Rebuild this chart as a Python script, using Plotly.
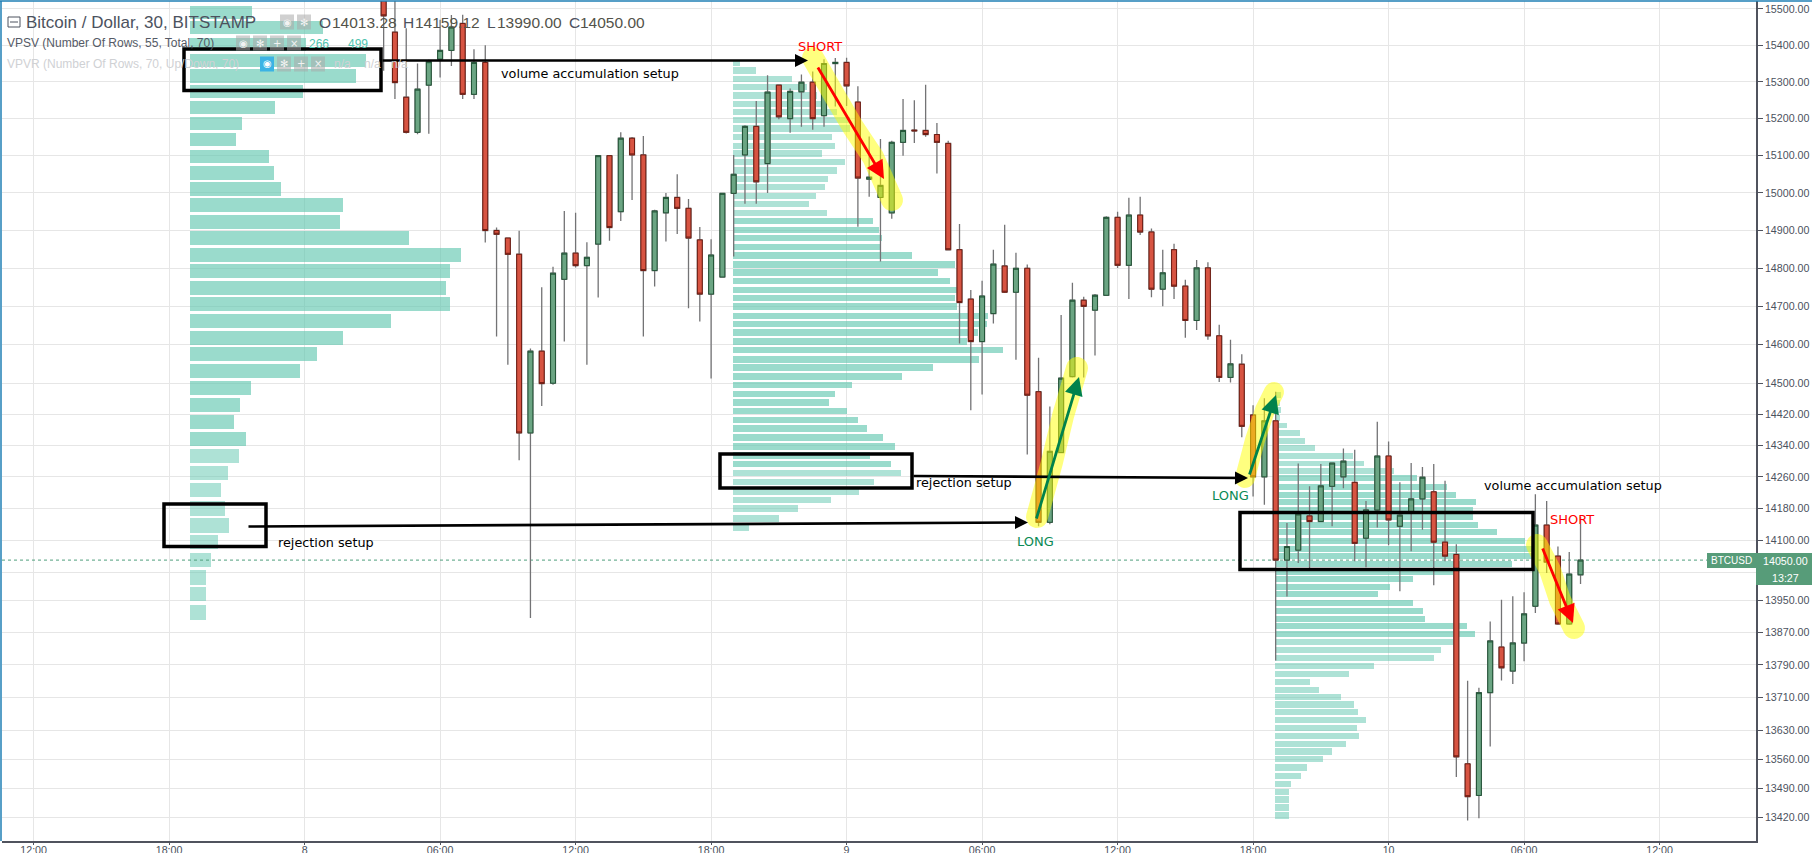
import math
import numpy as np
import pandas as pd
import plotly.graph_objects as go

# ---------- chart data (30-minute bars) ----------
first_bar = "2018-01-08 03:30"
opens = [15530,15436,15258,15163,15291,15362,15386,15460,15266,15353,
         14900,14880,14837,14372,14583,14500,14771,14840,14807,14864,
         15100,14950,15147,15102,14794,14947,14988,14959,14875,14732,
         14777,14999,15102,15179,15079,15291,15200,15273,15299,15208,
         15350,15353,15245,15037,14988,14947,15136,15169,15168,15157,
         15133,14849,14719,14608,14681,14806,14737,14800,14478,14145,
         14322,14517,14716,14690,14729,14935,14808,14941,14896,14745,
         14849,14753,14663,14801,14623,14515,14549,14418,14260,14403,
         14050,14075,14161,14147,14236,14260,14246,14105,14176,14313,
         14135,14170,14204,14222,14095,14064,13549,13473,13722,13834,
         13775,13844,13935,14138,14060,13891,14013.28]
highs = [15560,15540,15447,15350,15360,15470,15483,15484,15389,15400,
         14908,14880,14899,14590,14750,14804,14952,14947,14869,15102,
         15102,15163,15150,15153,14955,15000,15050,14984,14909,14877,
         15000,15102,15182,15248,15318,15293,15282,15320,15328,15362,
         15365,15366,15288,15152,15145,15140,15253,15250,15292,15188,
         15140,14917,14743,14767,14849,14915,14841,14810,14566,14440,
         14677,14762,14725,14732,14938,14950,14987,14990,14905,14849,
         14865,14770,14822,14816,14652,14613,14575,14443,14461,14478,
         14143,14294,14236,14293,14296,14332,14329,14199,14401,14350,
         14246,14295,14285,14293,14250,14090,13751,13734,13897,13951,
         13960,13970,14216,14199,14084,14070,14159.12]
lows = [15330,15253,15160,15158,15159,15312,15343,15253,15253,14868,
        14621,14548,14302,13906,14441,14496,14608,14802,14548,14723,
        14873,14925,14981,14621,14752,14871,14891,14695,14660,14512,
        14775,14831,14971,14971,15000,15198,15162,15178,15170,15178,
        15233,15234,14910,14990,14818,14931,15100,15134,15151,15052,
        14847,14603,14430,14471,14655,14735,14561,14317,14135,14140,
        14320,14515,14515,14572,14729,14801,14719,14888,14724,14700,
        14719,14618,14638,14613,14503,14502,14361,14210,14189,13801,
        13959,14043,14030,14145,14135,14231,14047,14032,14132,14087,
        13972,14072,14126,13987,14047,13517,13413,13418,13591,13752,
        13743,13799,13918,14018,13889,13889,13990]
closes = [15481,15298,15163,15280,15355,15386,15450,15266,15353,14900,
          14890,14837,14372,14583,14499,14787,14840,14807,14829,15100,
          14908,15147,15102,14794,14952,14988,14959,14880,14732,14835,
          14999,15050,15179,15030,15272,15205,15274,15299,15200,15350,
          15353,15289,15040,15042,15020,15136,15168,15167,15157,15136,
          14849,14710,14608,14727,14811,14737,14800,14469,14145,14325,
          14513,14716,14700,14729,14935,14808,14941,14896,14745,14788,
          14753,14663,14801,14623,14515,14550,14389,14260,14403,14050,
          14084,14166,14147,14237,14295,14300,14092,14176,14313,14151,
          14163,14204,14259,14095,14060,13566,13470,13722,13849,13783,
          13844,13916,14138,14045,13891,14015,14050]

profile1_prices = [15489,15448,15402,15359,15316,15273,15230,15187,15143,15097,15054,15011,
                   14968,14923,14880,14835,14793,14748,14706,14661,14617,14575,14532,14488,
                   14444,14400,14357,14313,14270,14226,14180,14137,14095,14050,14007,13965,13920]
profile1_volumes = [62,133,116,176,166,113,85,52,46,79,84,91,153,150,219,271,260,256,260,201,
                    153,127,110,61,50,44,56,49,38,31,35,39,28,21,16,16,16]
profile2_prices = [15352,15331,15307,15285,15263,15240,15218,15196,15173,15150,
                   15127,15106,15083,15060,15038,15016,14992,14970,14947,14925,
                   14902,14880,14857,14834,14810,14789,14766,14743,14722,14699,
                   14675,14654,14631,14608,14586,14562,14540,14518,14495,14472,
                   14450,14428,14405,14383,14360,14338,14315,14293,14270,14247,
                   14222,14201,14180,14154,14131]
profile2_volumes = [7,23,59,74,84,90,104,117,117,99,102,89,112,104,95,92,83,76,94,140,
                    146,149,148,179,222,205,217,229,222,224,255,254,245,234,270,246,200,169,119,102,
                    96,114,125,134,150,162,137,158,168,141,126,98,65,46,16]
profile3_prices = [14470,14449,14430,14410,14391,14371,14352,14333,14313,14294,
                   14275,14256,14235,14215,14196,14177,14159,14139,14120,14099,
                   14079,14060,14040,14021,14003,13984,13965,13943,13924,13904,
                   13885,13867,13847,13827,13808,13788,13768,13749,13729,13711,
                   13693,13674,13655,13635,13617,13598,13579,13560,13540,13520,
                   13500,13481,13463,13444,13425]
profile3_volumes = [6,5,6,5,12,25,30,40,78,89,119,142,172,181,201,198,198,203,222,250,
                    262,260,237,178,138,115,103,138,148,150,192,200,178,166,159,99,74,35,44,66,
                    79,83,91,82,84,71,57,48,32,26,16,14,14,14,14]

price_ticks = [15500,15400,15300,15200,15100,15000,14900,14800,14700,14600,14500,14420,14340,
               14260,14180,14100,14020,13950,13870,13790,13710,13630,13560,13490,13420]
time_ticks = ["2018-01-07 12:00","2018-01-07 18:00","2018-01-08 00:00","2018-01-08 06:00",
              "2018-01-08 12:00","2018-01-08 18:00","2018-01-09 00:00","2018-01-09 06:00",
              "2018-01-09 12:00","2018-01-09 18:00","2018-01-10 00:00","2018-01-10 06:00",
              "2018-01-10 12:00"]
time_labels = ["12:00","18:00","8","06:00","12:00","18:00","9","06:00","12:00","18:00","10","06:00","12:00"]
last_price = 14050

# ---------- page geometry ----------
W, H = 1812, 853
L, R, T, B = 2, 1756, 1, 841
def px(x): return (x - L) / (R - L)
def py(y): return 1 - (y - T) / (B - T)

times = pd.date_range(first_bar, periods=len(opens), freq="30min")
GREEN, RED = "#6ba583", "#d75442"
GREEN_EDGE, RED_EDGE = "#225437", "#6f1c12"
WICK = "#737375"
VA = "rgba(100,200,176,0.65)"
OUT = "rgba(100,200,176,0.52)"
FONT = "Liberation Sans"
NOTE = "DejaVu Sans"
AXIS_SIZE = 10.7

fig = go.Figure()

def profile(prices, vols, left, thick, va_low, va_high):
    colors = [VA if va_low <= p <= va_high else OUT for p in prices]
    fig.add_trace(go.Bar(y=prices, x=vols, base=left - L, orientation="h", width=thick,
                         marker=dict(color=colors, line=dict(width=0)),
                         xaxis="x", yaxis="y", showlegend=False, hoverinfo="skip"))

profile(profile1_prices, profile1_volumes, 190, 36, 14340, 15600)
profile(profile2_prices, profile2_volumes, 732.7, 17, 14280, 14930)
profile(profile3_prices, profile3_volumes, 1275, 15, 13860, 14260)

fig.add_trace(go.Scatter(x=[0, R - L], y=[last_price, last_price], mode="lines",
                         line=dict(color="#4f9e7c", width=1, dash="dot"),
                         xaxis="x", yaxis="y", showlegend=False, hoverinfo="skip"))

# wicks
fig.add_trace(go.Candlestick(x=times, open=opens, high=highs, low=lows, close=closes,
                             xaxis="x2", yaxis="y", whiskerwidth=0, showlegend=False, hoverinfo="skip",
                             increasing=dict(line=dict(color=WICK, width=1.3), fillcolor=GREEN),
                             decreasing=dict(line=dict(color=WICK, width=1.3), fillcolor=RED)))
# bodies
body_hi = [max(a, b) for a, b in zip(opens, closes)]
body_lo = [min(a, b) for a, b in zip(opens, closes)]
fig.add_trace(go.Candlestick(x=times, open=opens, high=body_hi, low=body_lo, close=closes,
                             xaxis="x2", yaxis="y", whiskerwidth=0, showlegend=False, hoverinfo="skip",
                             increasing=dict(line=dict(color=GREEN_EDGE, width=1), fillcolor=GREEN),
                             decreasing=dict(line=dict(color=RED_EDGE, width=1), fillcolor=RED)))

shapes, notes = [], []

def rect(x0, y0, x1, y1, **kw):
    shapes.append(dict(type="rect", xref="paper", yref="paper", x0=px(x0), x1=px(x1),
                       y0=py(y0), y1=py(y1), layer="above", **kw))

def seg(x0, y0, x1, y1, color, width):
    shapes.append(dict(type="line", xref="paper", yref="paper", x0=px(x0), x1=px(x1),
                       y0=py(y0), y1=py(y1), layer="above", line=dict(color=color, width=width)))

def text(x, y, s, size=12, color="#000", family=NOTE, anchor="left"):
    notes.append(dict(xref="paper", yref="paper", x=px(x), y=py(y), text=s, showarrow=False,
                      xanchor=anchor, yanchor="middle", font=dict(size=size, color=color, family=family),
                      borderpad=0, borderwidth=0))

def arrow(x0, y0, x1, y1, color, width, size):
    notes.append(dict(xref="paper", yref="paper", x=px(x1), y=py(y1), ax=x0 - x1, ay=y0 - y1,
                      axref="pixel", ayref="pixel", text="", showarrow=True, arrowhead=2,
                      arrowsize=size, arrowwidth=width, arrowcolor=color, standoff=0))

def blob(points, w, color="rgba(255,255,0,0.5)"):
    pts = np.array(points, float)
    r = w / 2
    left, right = [], []
    for i in range(len(pts)):
        a = pts[max(i - 1, 0)]
        b = pts[min(i + 1, len(pts) - 1)]
        d = (b - a) / np.linalg.norm(b - a)
        n = np.array([-d[1], d[0]])
        left.append(pts[i] + n * r)
        right.append(pts[i] - n * r)
    def cap(c, start):
        return [c + r * np.array([math.cos(start - t), math.sin(start - t)]) for t in np.linspace(0, math.pi, 12)]
    d_end = pts[-1] - pts[-2]
    d_start = pts[0] - pts[1]
    a_end = math.atan2(d_end[1], d_end[0]) + math.pi / 2
    a_start = math.atan2(d_start[1], d_start[0]) + math.pi / 2
    outline = left + cap(pts[-1], a_end) + right[::-1] + cap(pts[0], a_start)
    path = "M " + " L ".join(f"{px(p[0]):.5f} {py(p[1]):.5f}" for p in outline) + " Z"
    shapes.append(dict(type="path", xref="paper", yref="paper", path=path, fillcolor=color,
                       line=dict(width=0), layer="above"))

# price tag
rect(1707, 553, 1756, 568, fillcolor="#579c79", line=dict(width=0))
rect(1756, 553, 1812, 585, fillcolor="#579c79", line=dict(width=0))
# window frame
seg(0, 1, W, 1, "#1f7fb5", 1.5)
seg(1, 1, 1, B, "#1f7fb5", 1.5)

# highlighter strokes
blob([(813, 58), (833, 93), (853, 127), (873, 157), (892, 200)], 22)
blob([(1037, 517), (1052, 462), (1063, 416), (1077, 368)], 22)
blob([(1245, 478), (1255, 440), (1265, 410), (1274, 392)], 20)
blob([(1537, 545), (1550, 570), (1560, 600), (1574, 628)], 22)

# boxes
box = dict(line=dict(color="#000", width=3.5))
rect(184, 49, 381, 90.5, **box)
rect(720, 454, 912, 488, **box)
rect(164, 504, 266, 546.5, **box)
rect(1240, 512.5, 1533, 569.5, **box)

# arrows
arrow(381, 60.5, 808, 60.5, "#000", 2.6, 1.0)
arrow(912, 476, 1248, 478, "#000", 2.6, 1.0)
arrow(247, 526.5, 1028, 522.5, "#000", 2.6, 1.0)
arrow(817, 66, 884, 179, "#ff0000", 2.8, 1.3)
arrow(1542, 547, 1573, 623, "#ff0000", 2.8, 1.3)
arrow(1036, 520, 1079, 377, "#00824c", 2.8, 1.3)
arrow(1249, 476, 1276, 395, "#00824c", 2.8, 1.3)

# hand-written labels
text(501, 73, "volume accumulation setup", 12.8)
text(1484, 486, "volume accumulation setup", 12.8)
text(916, 483, "rejection setup", 12.8)
text(278, 542.5, "rejection setup", 12.8)
text(820, 46, "SHORT", 13, "#ff0000", NOTE, "center")
text(1572, 519, "SHORT", 13, "#ff0000", NOTE, "center")
text(1035, 541, "LONG", 13, "#0a8a55", NOTE, "center")
text(1230, 495, "LONG", 13, "#0a8a55", NOTE, "center")

# header
rect(8, 17, 20, 27, line=dict(color="#4c525e", width=1))
seg(10, 22, 18, 22, "#4c525e", 1)
text(26, 22, "Bitcoin / Dollar, 30, BITSTAMP", 17, "#4c525e", FONT)
for x, s, col in [(319, "O", "#4c525e"), (332, "14013.28", "#53534a"), (403, "H", "#4c525e"),
                  (415, "14159.12", "#53534a"), (487, "L", "#4c525e"), (497, "13990.00", "#53534a"),
                  (569, "C", "#4c525e"), (580, "14050.00", "#53534a")]:
    text(x, 22, s, 15.5, col, FONT)
text(7, 43, "VPSV (Number Of Rows, 55, Total, 70)", 12, "#555a66", FONT)
text(7, 64, "VPVR (Number Of Rows, 70, Up/Down, 70)", 12, "#cfd1d4", FONT)
text(309, 44, "266", 12, "#4fc3ae", FONT)
text(348, 44, "499", 12, "#4fc3ae", FONT)
for x in (334, 364, 391):
    text(x, 64, "n/a", 12, "#cfd1d4", FONT)
grey = "rgba(170,170,170,0.55)"
for x0, g, yc in [(280, "◉", 22), (297, "✻", 22), (236, "◉", 43), (253, "✻", 43), (270, "+", 43), (287, "×", 43),
                  (277, "✻", 64), (294, "+", 64), (311, "×", 64)]:
    rect(x0, yc - 7.5, x0 + 14, yc + 7.5, fillcolor=grey, line=dict(width=0))
    text(x0 + 7, yc, g, 10, "#f2f2f2", "DejaVu Sans", "center")
rect(260, 56.5, 274, 71.5, fillcolor="#3bb3e4", line=dict(width=0))
text(267, 64, "◉", 10, "#ffffff", "DejaVu Sans", "center")

# price tag text
text(1731.5, 560.5, "BTCUSD", 10, "#ffffff", FONT, "center")
text(1785, 560.5, "14050.00", AXIS_SIZE, "#ffffff", FONT, "center")
text(1785, 577.5, "13:27", AXIS_SIZE, "#ffffff", FONT, "center")

left_t = "2018-01-07 10:36:00"
right_t = "2018-01-10 16:16:12"
fig.update_layout(
    template="none",
    width=W, height=H, margin=dict(l=L, r=W - R, t=T, b=H - B, pad=0, autoexpand=False),
    paper_bgcolor="#ffffff", plot_bgcolor="#ffffff", showlegend=False,
    barmode="overlay", boxgap=0.38, bargap=0, dragmode=False,
    font=dict(family=FONT, size=AXIS_SIZE, color="#4c525e"),
    xaxis=dict(range=[0, R - L], visible=False, fixedrange=True, showgrid=False, zeroline=False, automargin=False),
    xaxis2=dict(type="date", overlaying="x", side="bottom", anchor="y", range=[left_t, right_t],
                tickmode="array", tickvals=time_ticks, ticktext=time_labels, automargin=False,
                showgrid=True, gridcolor="#e6e6e6", gridwidth=1.2, zeroline=False,
                rangeslider=dict(visible=False), ticks="outside", ticklen=2, tickwidth=1,
                ticklabelstandoff=-4,
                tickcolor="#50535e", showline=True, linecolor="#50535e", linewidth=1.5,
                tickfont=dict(family=FONT, size=AXIS_SIZE, color="#4c525e"), tickangle=0),
    yaxis=dict(type="log", side="right", anchor="x", range=[math.log10(13364), math.log10(15522)],
               tickmode="array", tickvals=price_ticks, ticktext=[f"{v:.2f}" for v in price_ticks],
               showgrid=True, gridcolor="#e6e6e6", gridwidth=1.2, zeroline=False, automargin=False,
               ticks="outside", ticklen=5, tickwidth=1, tickcolor="#50535e",
               showline=True, linecolor="#50535e", linewidth=1.5,
               tickfont=dict(family=FONT, size=AXIS_SIZE, color="#4c525e")),
    shapes=shapes, annotations=notes,
)

fig.write_html("out.html", config=dict(displayModeBar=False, responsive=False),
               post_script="document.body.style.margin='0';document.documentElement.style.overflow='hidden';")
